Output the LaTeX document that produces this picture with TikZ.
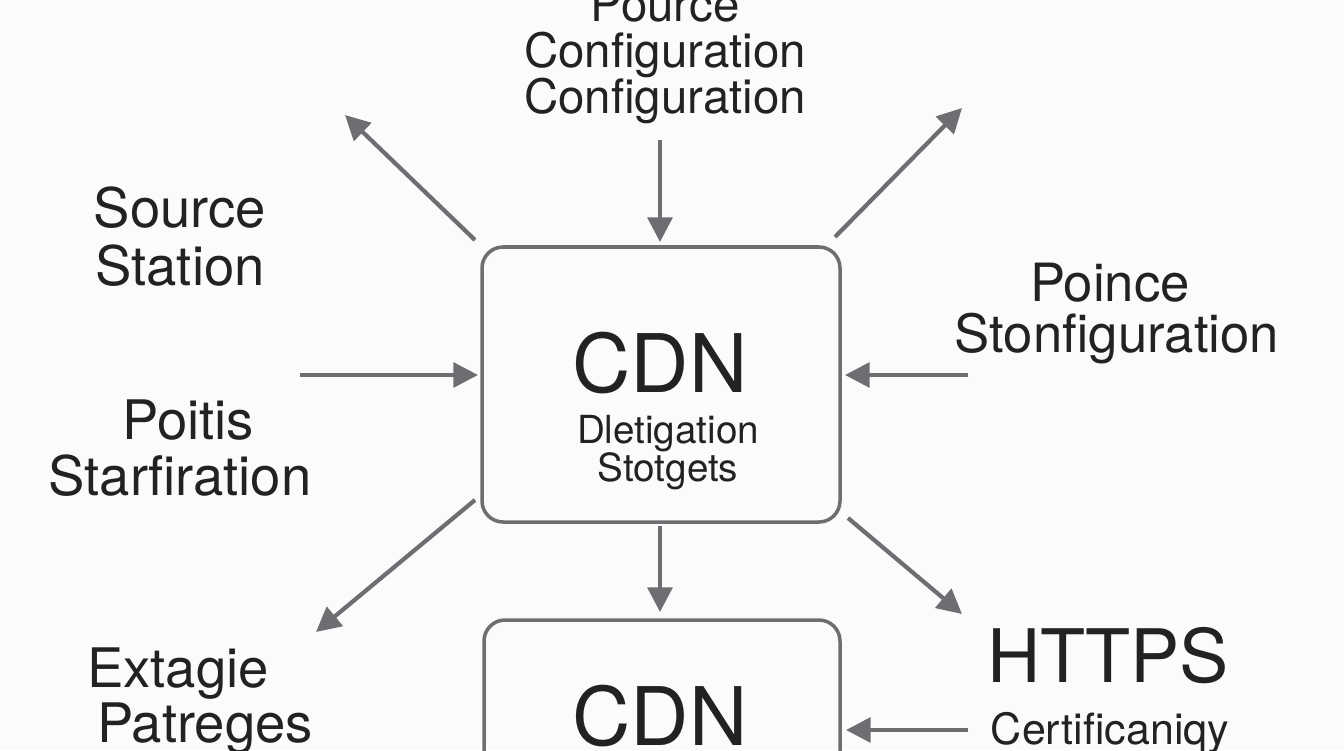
\documentclass[tikz,border=0pt]{standalone}
\usepackage{fontspec}
\setmainfont{TeX Gyre Heros}
\usetikzlibrary{arrows.meta}
\definecolor{txt}{HTML}{222222}
\definecolor{ln}{HTML}{6E6E72}
\begin{document}
\begin{tikzpicture}[x=0.02cm,y=-0.02cm,
  arr/.style={draw=ln,line width=2.4pt,-{Triangle[length=14pt,width=14pt]}},
  box/.style={draw=ln,line width=2pt,rounded corners=12pt},
  t/.style={text=txt,align=center,inner sep=0pt,font=\fontsize{#1}{#1}\selectfont}]
\useasboundingbox (0,0) rectangle (1344,750);
\clip (0,0) rectangle (1344,750);
\fill[white!97!gray] (0,0) rectangle (1344,750);
% boxes
\draw[box] (482,247) rectangle (840,522);
\draw[box] (484,620) rectangle (840,790);
% texts
\node[t=27pt] (p1) at (665,5) {Pource};
\node[t=27pt] (p2) at (665,55) {Configuration};
\node[t=27pt] (p3) at (665,101) {Configuration};
\node[t=46pt] (cdn) at (660,363) {CDN};
\node[t=22pt] (d1) at (668,434) {Dletigation};
\node[t=22pt] (d2) at (668,471) {Stotgets};
\node[t=31pt] (s1) at (180,208) {Source};
\node[t=31pt] (s2) at (180,266) {Station};
\node[t=31pt] (q1) at (188,420) {Poitis};
\node[t=31pt] (q2) at (180,476) {Starfiration};
\node[t=30pt] (r1) at (1110,283) {Poince};
\node[t=30pt] (r2) at (1117,339) {Stonfiguration};
\node[t=31pt] (e1) at (178,674) {Extagie};
\node[t=31pt] (e2) at (205,729) {Patreges};
\node[t=42pt] (h1) at (1108,656) {HTTPS};
\node[t=24.5pt] (h2) at (1110,733) {Certificaniqy};
\node[t=46pt] (cdn2) at (660,716) {CDN};
% connector points
\coordinate (a1s) at (660,140); \coordinate (a1e) at (660,242);
\coordinate (a2s) at (475,240); \coordinate (a2e) at (345,115);
\coordinate (a3s) at (835,237); \coordinate (a3e) at (962,108);
\coordinate (a4s) at (300,375); \coordinate (a4e) at (478,375);
\coordinate (a5s) at (968,375); \coordinate (a5e) at (845,375);
\coordinate (a6s) at (475,500); \coordinate (a6e) at (316,632);
\coordinate (a7s) at (848,518); \coordinate (a7e) at (962,614);
\coordinate (a8s) at (660,526); \coordinate (a8e) at (660,612);
\coordinate (a9s) at (968,730); \coordinate (a9e) at (846,730);
\foreach \i in {1,...,9}{\draw[arr] (a\i s) -- (a\i e);}
\end{tikzpicture}
\end{document}
